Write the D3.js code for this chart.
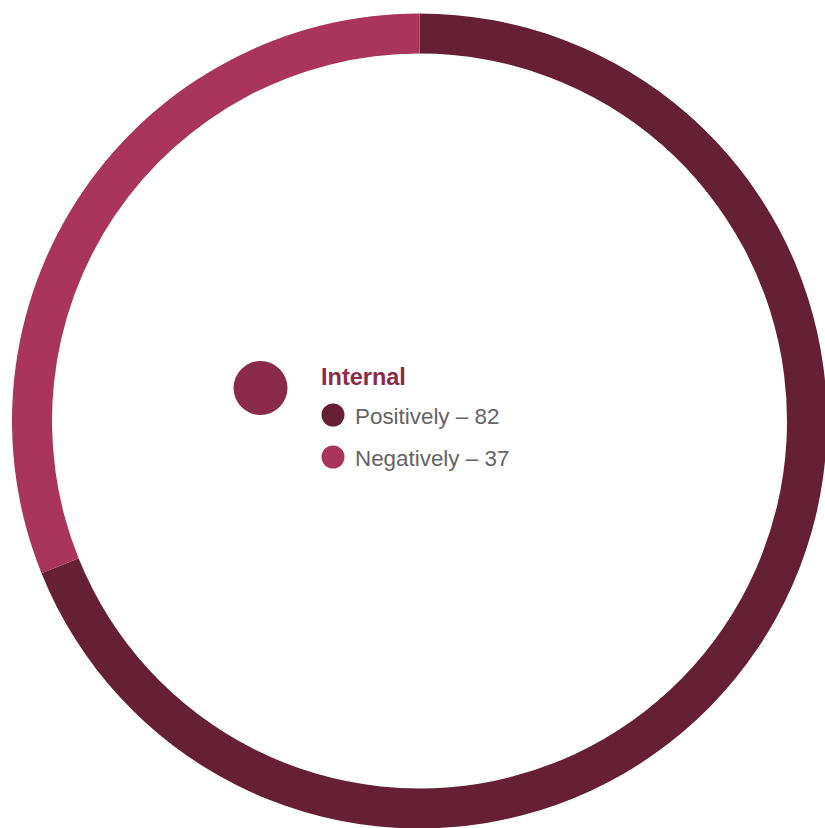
<!DOCTYPE html>
<html><head><meta charset="utf-8">
<script src="https://cdn.jsdelivr.net/npm/d3@7"></script>
<style>html,body{margin:0;padding:0;background:#fff;overflow:hidden}</style>
</head><body>
<script>
const title = "Internal";
const categories = ["Positively", "Negatively"];
const values = [82, 37];
const colors = ["#652036", "#aa355c"];
const titleColor = "#8b2b4b";

const W = 825, H = 828;
const svg = d3.select("body").append("svg").attr("width", W).attr("height", H);
const cx = 419.5, cy = 421, rOut = 407.5, rIn = 367.5;

const pie = d3.pie().sort(null).value(d => d.v);
const arcs = pie(categories.map((c, i) => ({c, v: values[i], col: colors[i]})));
const arc = d3.arc().innerRadius(rIn).outerRadius(rOut);
svg.append("g").attr("transform", `translate(${cx},${cy})`)
  .selectAll("path").data(arcs).join("path")
  .attr("d", arc).attr("fill", d => d.data.col);

const lg = svg.append("g");
lg.append("circle").attr("cx", 260.5).attr("cy", 388).attr("r", 27).attr("fill", titleColor);
lg.append("text").attr("x", 321).attr("y", 385).text(title)
  .attr("font-family", "Liberation Sans, Arial, sans-serif").attr("font-weight", "bold")
  .attr("font-size", 23.5).attr("fill", titleColor);
const y = d3.scaleBand().domain(categories).range([394, 478]);
const items = lg.selectAll("g.item").data(categories).join("g").attr("class", "item")
  .attr("transform", d => `translate(0,${y(d) + y.bandwidth() / 2})`);
items.append("circle").attr("cx", 333).attr("cy", 0).attr("r", 11.5).attr("fill", (d, i) => colors[i]);
items.append("text").attr("x", 355).attr("y", 8.5)
  .text((d, i) => `${d} – ${values[i]}`)
  .attr("font-family", "Liberation Sans, Arial, sans-serif").attr("font-size", 22.4)
  .attr("fill", "#646466");
</script>
</body></html>
